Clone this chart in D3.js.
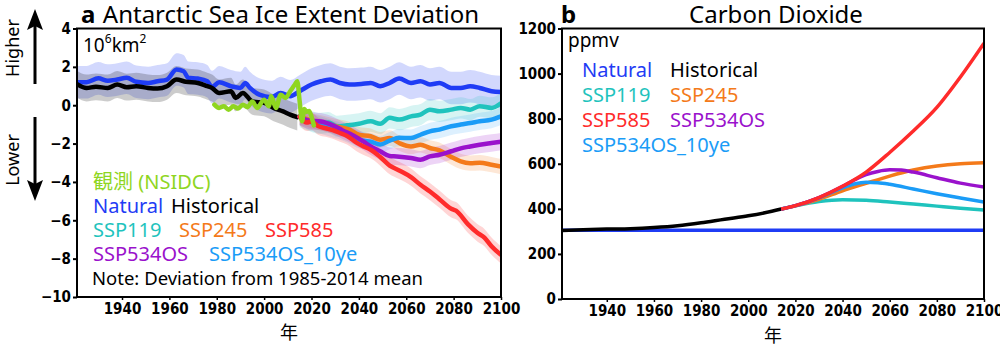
<!DOCTYPE html>
<html>
<head>
<meta charset="utf-8">
<script src="https://cdn.jsdelivr.net/npm/d3@7"></script>
<style>
  body { margin: 0; background: #fff; }
  svg text { font-family: "Noto Sans", "Noto Sans CJK JP", sans-serif; }
  .tick text { font-family: "DejaVu Sans Condensed", "DejaVu Sans", sans-serif; font-weight: bold; font-stretch: condensed; }
</style>
</head>
<body>
<div id="chart"></div>
<script>
// ---------------- panel a : sea ice extent deviation (10^6 km2) ----------------
const naturalYears = [1921,1925,1930,1934,1938,1942,1946,1951,1955,1959,1963,1966,1968,1972,1976,1978,1981,1986,1990,1992,1994,1998,2003,2007,2011,2015,2020,2024,2028,2032,2036,2041,2045,2049,2053,2057,2062,2066,2070,2074,2079,2083,2087,2091,2096,2100];
const naturalVals  = [1.2,1.2,1.4,1.28,1.34,1.43,1.22,1.16,1.25,1.34,1.86,1.77,1.43,1.39,1.25,0.95,1.2,0.99,0.9,1.16,0.9,0.55,0.42,0.64,0.47,0.73,1.08,1.25,1.34,1.16,1.08,1.11,1.16,0.99,1.16,1.39,1.16,1.25,1.08,1.16,0.9,0.9,0.99,0.9,0.73,0.69];

const histYears = [1921,1925,1929,1934,1938,1942,1946,1951,1955,1959,1963,1967,1972,1976,1978,1981,1986,1988,1991,1995,2000,2004,2008,2011,2014];
const histVals  = [1.1,0.9,0.96,0.9,1.08,0.94,0.99,0.9,0.87,0.99,1.34,1.22,1.16,0.99,0.9,0.64,0.73,0.38,0.64,0.2,0.12,-0.14,-0.32,-0.49,-0.62];

const obsYears = [1979,1981,1983,1985,1987,1989,1991,1993,1995,1997,2000,2002,2003,2005,2007,2009,2011,2013,2014,2015,2016,2017,2018,2019,2020,2021];
const obsVals  = [0.03,-0.14,-0.05,-0.23,-0.05,-0.17,0.03,-0.1,0.2,-0.14,0.29,-0.05,0.47,-0.14,0.55,0.38,0.73,1.08,1.25,0.2,-0.84,-0.2,-0.35,-0.3,-0.6,-1.05];

const ssp119Years = [2015,2019,2023,2027,2031,2035,2040,2045,2049,2053,2057,2062,2066,2070,2074,2079,2083,2087,2091,2096,2100];
const ssp119Vals  = [-0.6,-0.8,-0.95,-0.9,-1.1,-1.05,-0.97,-0.84,-0.97,-0.66,-0.75,-0.58,-0.49,-0.23,-0.32,-0.23,-0.14,-0.23,-0.05,-0.14,0.1];

const ssp245Years = [2015,2020,2025,2030,2036,2040,2045,2049,2053,2057,2062,2066,2070,2074,2079,2083,2087,2091,2096,2100];
const ssp245Vals  = [-0.6,-0.8,-0.95,-1.1,-1.27,-1.54,-1.62,-1.8,-1.71,-1.97,-2.15,-2.06,-2.23,-2.35,-2.7,-2.93,-3.02,-3.0,-3.1,-3.2];

const ssp585Years = [2015,2018,2020,2023,2026,2029,2032,2035,2039,2042,2045,2049,2053,2057,2062,2066,2070,2074,2079,2081,2086,2090,2093,2096,2100];
const ssp585Vals  = [-0.6,-0.9,-0.85,-1.1,-1.2,-1.3,-1.45,-1.6,-1.95,-2.15,-2.32,-2.7,-3.15,-3.4,-3.75,-4.15,-4.5,-4.9,-5.4,-5.5,-6.2,-6.65,-6.9,-7.35,-7.8];

const ssp534Years = [2015,2019,2024,2029,2033,2038,2042,2045,2049,2053,2056,2062,2066,2070,2074,2079,2083,2087,2091,2096,2100];
const ssp534Vals  = [-0.6,-0.8,-0.85,-1.05,-1.3,-1.6,-1.9,-2.15,-2.4,-2.65,-2.67,-2.75,-2.84,-2.67,-2.58,-2.4,-2.25,-2.15,-2.06,-1.97,-1.9];

const ssp534_10Years = [2015,2019,2023,2027,2031,2035,2039,2042,2045,2049,2053,2057,2062,2066,2070,2074,2079,2083,2087,2091,2096,2100];
const ssp534_10Vals  = [-0.6,-0.85,-1.0,-1.15,-1.3,-1.5,-1.75,-1.85,-1.9,-2.05,-1.85,-1.7,-1.71,-1.54,-1.36,-1.27,-1.1,-1.01,-0.93,-0.84,-0.75,-0.58];

// half width of the ensemble spread, 10^6 km2
const spreadNatural = 0.85, spreadHist = 0.7, spread119 = 0.55, spread245 = 0.4,
      spread585 = 0.45, spread534 = 0.45, spread534_10 = 0.45;

// ---------------- panel b : CO2 concentration (ppmv) ----------------
const co2NaturalYears = [1921, 2100];
const co2NaturalVals  = [305, 305];
const co2HistYears = [1921,1930,1940,1950,1960,1970,1980,1990,2000,2010,2014];
const co2HistVals  = [304,307,310,312,317,325,338,354,369,389,399];
const co2_119Years = [2014,2020,2030,2040,2050,2060,2070,2080,2090,2100];
const co2_119Vals  = [399,413,432,440,438,430,421,412,403,395];
const co2_245Years = [2014,2020,2030,2040,2050,2060,2070,2080,2090,2100];
const co2_245Vals  = [399,413,442,480,513,545,572,590,600,604];
const co2_585Years = [2014,2020,2030,2040,2050,2060,2070,2080,2090,2100];
const co2_585Vals  = [399,414,450,500,563,650,745,850,985,1135];
const co2_534Years = [2014,2020,2030,2040,2045,2050,2055,2060,2065,2070,2080,2090,2100];
const co2_534Vals  = [399,414,450,500,528,552,566,573,572,563,538,514,497];
const co2_534_10Years = [2014,2020,2030,2040,2045,2050,2055,2060,2070,2080,2090,2100];
const co2_534_10Vals  = [399,414,449,493,510,518,516,509,488,467,448,430];

const colors = {
  natural: "#1f3cf5",
  hist: "#000000",
  obs: "#8fd61f",
  ssp119: "#1fc3bd",
  ssp245: "#f47a1a",
  ssp585: "#ff2b2b",
  ssp534: "#9a12cc",
  ssp534_10: "#1a9cf7"
};

const W = 1000, H = 349;
const A = {left: 77, right: 501, top: 28.5, bottom: 297};
const B = {left: 562, right: 984, top: 28.5, bottom: 299};

const svg = d3.select("#chart").append("svg")
  .attr("width", W).attr("height", H)
  .attr("viewBox", [0, 0, W, H]);

const pairs = (years, vals) => years.map((y, i) => [y, vals[i]]);
const minus = s => s.startsWith("-") ? "\u2212" + s.slice(1) : s;

// tick styling shared by both panels
function styleTicks(g, size) {
  g.select(".domain").remove();
  g.selectAll(".tick line").attr("stroke-width", size);
  g.selectAll(".tick text").attr("font-size", 15).attr("fill", "#000");
}

// ================================================================
// PANEL A
// ================================================================
const xA = d3.scaleLinear().domain([1921, 2100]).range([A.left, A.right]);
const yA = d3.scaleLinear().domain([-10, 4]).range([A.bottom, A.top]);

svg.append("clipPath").attr("id", "clipA")
  .append("rect").attr("x", A.left).attr("y", A.top)
  .attr("width", A.right - A.left).attr("height", A.bottom - A.top);

const seriesA = [
  {key: "natural",   years: naturalYears,   vals: naturalVals,   spread: spreadNatural, op: 0.2},
  {key: "hist",      years: histYears,      vals: histVals,      spread: spreadHist,    op: 0.2},
  {key: "ssp119",    years: ssp119Years,    vals: ssp119Vals,    spread: spread119,     op: 0.18},
  {key: "ssp245",    years: ssp245Years,    vals: ssp245Vals,    spread: spread245,     op: 0.18},
  {key: "ssp534_10", years: ssp534_10Years, vals: ssp534_10Vals, spread: spread534_10,  op: 0.15},
  {key: "ssp534",    years: ssp534Years,    vals: ssp534Vals,    spread: spread534,     op: 0.18},
  {key: "ssp585",    years: ssp585Years,    vals: ssp585Vals,    spread: spread585,     op: 0.2}
];

const gA = svg.append("g").attr("clip-path", "url(#clipA)");

const band = d3.area()
  .x(d => xA(d[0]))
  .y0(d => yA(d[1] - d[2]))
  .y1(d => yA(d[1] + d[2]))
  .curve(d3.curveMonotoneX);

gA.selectAll("path.band")
  .data(seriesA)
  .join("path")
  .attr("class", "band")
  .attr("d", s => band(s.years.map((y, i) => [y, s.vals[i], s.spread])))
  .attr("fill", s => colors[s.key])
  .attr("fill-opacity", s => s.op);

const lineA = d3.line()
  .x(d => xA(d[0]))
  .y(d => yA(d[1]))
  .curve(d3.curveMonotoneX);

gA.selectAll("path.series")
  .data(seriesA.concat([{key: "obs", years: obsYears, vals: obsVals}]))
  .join("path")
  .attr("class", "series")
  .attr("d", s => lineA(pairs(s.years, s.vals)))
  .attr("fill", "none")
  .attr("stroke", s => colors[s.key])
  .attr("stroke-width", 4.5)
  .attr("stroke-linejoin", "round")
  .attr("stroke-linecap", "round");

// axes
svg.append("g")
  .attr("transform", `translate(${A.left},0)`)
  .call(d3.axisLeft(yA).tickValues(d3.range(-10, 5, 2)).tickSize(4).tickPadding(2)
    .tickFormat(d => minus(String(d))))
  .call(g => styleTicks(g, 2));

svg.append("g")
  .attr("transform", `translate(0,${A.bottom})`)
  .call(d3.axisBottom(xA).tickValues(d3.range(1940, 2101, 20)).tickSize(3).tickPadding(3)
    .tickFormat(d3.format("d")))
  .call(g => styleTicks(g, 1.5));

svg.append("rect")
  .attr("x", A.left).attr("y", A.top)
  .attr("width", A.right - A.left).attr("height", A.bottom - A.top)
  .attr("fill", "none").attr("stroke", "#000").attr("stroke-width", 2);

// titles
svg.append("text").attr("x", 81).attr("y", 23)
  .attr("font-size", 24).attr("font-weight", "bold").text("a");
svg.append("text").attr("x", 291).attr("y", 23).attr("text-anchor", "middle")
  .attr("font-size", 24).text("Antarctic Sea Ice Extent Deviation");
svg.append("text").attr("x", (A.left + A.right) / 2).attr("y", 339)
  .attr("text-anchor", "middle").attr("font-size", 18).text("年");

// unit label
const unitA = svg.append("text").attr("x", 83).attr("y", 52).attr("font-size", 19);
unitA.append("tspan").text("10");
unitA.append("tspan").attr("font-size", 12).attr("dy", -9).text("6");
unitA.append("tspan").attr("dy", 9).text("km");
unitA.append("tspan").attr("font-size", 12).attr("dy", -9).text("2");

// legend a
const legendA = [
  {text: "観測 (NSIDC)", key: "obs", x: 93, y: 189},
  {text: "Natural", key: "natural", x: 93, y: 213},
  {text: "Historical", key: "hist", x: 171, y: 213},
  {text: "SSP119", key: "ssp119", x: 93, y: 237},
  {text: "SSP245", key: "ssp245", x: 179, y: 237},
  {text: "SSP585", key: "ssp585", x: 265, y: 237},
  {text: "SSP534OS", key: "ssp534", x: 93, y: 261},
  {text: "SSP534OS_10ye", key: "ssp534_10", x: 209, y: 261}
];
svg.append("g").selectAll("text")
  .data(legendA)
  .join("text")
  .attr("x", d => d.x).attr("y", d => d.y)
  .attr("font-size", 20)
  .attr("fill", d => colors[d.key])
  .text(d => d.text);
svg.append("text").attr("x", 92).attr("y", 285).attr("font-size", 18.5)
  .text("Note: Deviation from 1985-2014 mean");

// Higher / Lower arrows at the left margin
const arrow = (x, yFrom, yTo) => {
  const dir = Math.sign(yTo - yFrom);
  svg.append("line").attr("x1", x).attr("x2", x)
    .attr("y1", yFrom).attr("y2", yTo - dir * 16)
    .attr("stroke", "#000").attr("stroke-width", 3);
  svg.append("path")
    .attr("d", `M${x},${yTo} L${x - 8},${yTo - dir * 21} L${x},${yTo - dir * 17} L${x + 8},${yTo - dir * 21} Z`)
    .attr("fill", "#000");
};
arrow(35, 84, 9);
arrow(35, 117, 201);
svg.append("text").attr("transform", "translate(19,48) rotate(-90)")
  .attr("text-anchor", "middle").attr("font-size", 18).text("Higher");
svg.append("text").attr("transform", "translate(19,160) rotate(-90)")
  .attr("text-anchor", "middle").attr("font-size", 18).text("Lower");

// ================================================================
// PANEL B
// ================================================================
const xB = d3.scaleLinear().domain([1921, 2100]).range([B.left, B.right]);
const yB = d3.scaleLinear().domain([0, 1200]).range([B.bottom, B.top]);

svg.append("clipPath").attr("id", "clipB")
  .append("rect").attr("x", B.left).attr("y", B.top)
  .attr("width", B.right - B.left).attr("height", B.bottom - B.top);

const seriesB = [
  {key: "natural",   years: co2NaturalYears, vals: co2NaturalVals},
  {key: "hist",      years: co2HistYears,    vals: co2HistVals},
  {key: "ssp119",    years: co2_119Years,    vals: co2_119Vals},
  {key: "ssp245",    years: co2_245Years,    vals: co2_245Vals},
  {key: "ssp534_10", years: co2_534_10Years, vals: co2_534_10Vals},
  {key: "ssp534",    years: co2_534Years,    vals: co2_534Vals},
  {key: "ssp585",    years: co2_585Years,    vals: co2_585Vals}
];

const lineB = d3.line()
  .x(d => xB(d[0]))
  .y(d => yB(d[1]))
  .curve(d3.curveMonotoneX);

svg.append("g").attr("clip-path", "url(#clipB)")
  .selectAll("path")
  .data(seriesB)
  .join("path")
  .attr("d", s => lineB(pairs(s.years, s.vals)))
  .attr("fill", "none")
  .attr("stroke", s => colors[s.key])
  .attr("stroke-width", 3.5);

svg.append("g")
  .attr("transform", `translate(${B.left},0)`)
  .call(d3.axisLeft(yB).tickValues(d3.range(0, 1201, 200)).tickSize(4).tickPadding(2)
    .tickFormat(d3.format("d")))
  .call(g => styleTicks(g, 2));

svg.append("g")
  .attr("transform", `translate(0,${B.bottom})`)
  .call(d3.axisBottom(xB).tickValues(d3.range(1940, 2101, 20)).tickSize(3).tickPadding(3)
    .tickFormat(d3.format("d")))
  .call(g => styleTicks(g, 1.5));

svg.append("rect")
  .attr("x", B.left).attr("y", B.top)
  .attr("width", B.right - B.left).attr("height", B.bottom - B.top)
  .attr("fill", "none").attr("stroke", "#000").attr("stroke-width", 2);

svg.append("text").attr("x", 561).attr("y", 23)
  .attr("font-size", 24).attr("font-weight", "bold").text("b");
svg.append("text").attr("x", 776).attr("y", 23).attr("text-anchor", "middle")
  .attr("font-size", 24).text("Carbon Dioxide");
svg.append("text").attr("x", (B.left + B.right) / 2).attr("y", 342)
  .attr("text-anchor", "middle").attr("font-size", 18).text("年");
svg.append("text").attr("x", 568).attr("y", 47).attr("font-size", 19).text("ppmv");

const legendB = [
  {text: "Natural", key: "natural", x: 582, y: 77},
  {text: "Historical", key: "hist", x: 670, y: 77},
  {text: "SSP119", key: "ssp119", x: 582, y: 102},
  {text: "SSP245", key: "ssp245", x: 670, y: 102},
  {text: "SSP585", key: "ssp585", x: 582, y: 127},
  {text: "SSP534OS", key: "ssp534", x: 670, y: 127},
  {text: "SSP534OS_10ye", key: "ssp534_10", x: 582, y: 152}
];
svg.append("g").selectAll("text")
  .data(legendB)
  .join("text")
  .attr("x", d => d.x).attr("y", d => d.y)
  .attr("font-size", 20)
  .attr("fill", d => colors[d.key])
  .text(d => d.text);
</script>
</body>
</html>
